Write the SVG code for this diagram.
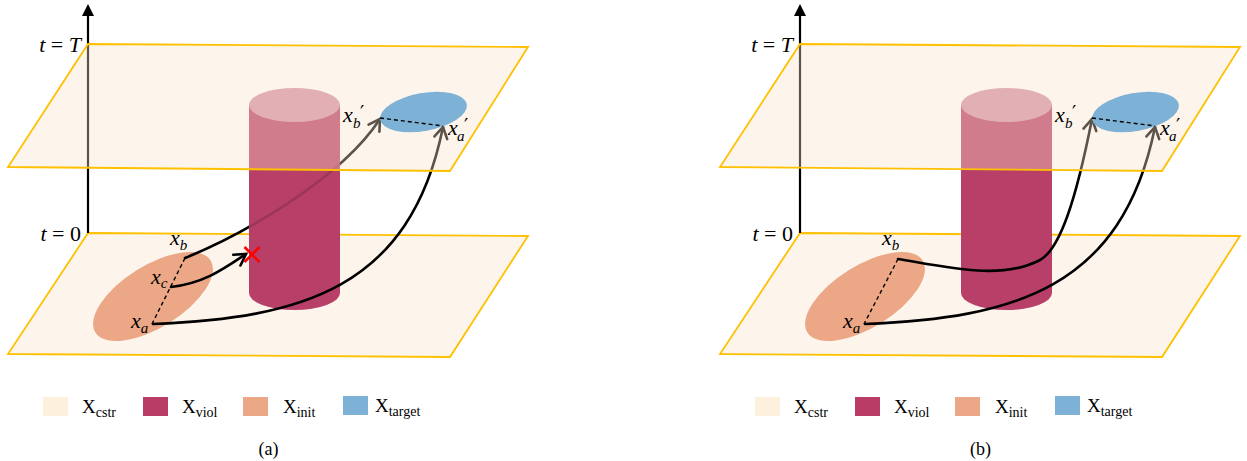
<svg xmlns="http://www.w3.org/2000/svg" width="1247" height="461" viewBox="0 0 1247 461">
<style>
.plane{fill:#fae4cc;fill-opacity:0.37;stroke:#ffc000;stroke-width:1.8;stroke-linejoin:miter}
.axis{stroke:#000;stroke-width:2.2}
.cyl{fill:#b84068}
.cyltop{fill:#d491a6}
.init{fill:#eca886}
.target{fill:#7db2d6}
.traj{fill:none;stroke:#000;stroke-width:2.6;stroke-linecap:round;marker-end:url(#chev)}
.dash{fill:none;stroke:#000;stroke-width:1.4;stroke-dasharray:4 3}
.lbl{font-family:'Liberation Serif','DejaVu Serif',serif;font-style:italic;font-size:22px;fill:#000}
.sub{font-size:15px}
.pr{font-family:'DejaVu Sans',sans-serif;font-style:normal;font-size:19px}
.up{font-style:normal}
.leg{font-family:'Liberation Serif','DejaVu Serif',serif;font-size:19px;fill:#000}
.ls{font-size:14px}
.cap{font-family:'Liberation Serif','DejaVu Serif',serif;font-size:18px;fill:#000}
</style>
<defs>
<marker id="chev" viewBox="-14 -8 16 16" refX="0" refY="0" markerWidth="16" markerHeight="16" markerUnits="userSpaceOnUse" orient="auto" overflow="visible">
<path d="M-11,-6.5 L0,0 L-11,6.5" fill="none" stroke="#000" stroke-width="2.6" stroke-linecap="round" stroke-linejoin="miter"/>
</marker>
<mask id="behindCyl" maskUnits="userSpaceOnUse" x="0" y="0" width="1247" height="461">
<rect width="1247" height="461" fill="#fff"/>
<rect x="249" y="105" width="91" height="188" fill="#262626"/>
<ellipse cx="294.5" cy="293" rx="45.5" ry="17" fill="#262626"/>
</mask>
</defs>

<g id="panel-a">
  <g id="a-plane-t0"><polygon class="plane" points="88,233 528,236 450,357 8,354"/></g>
  <g id="a-axis">
    <line class="axis" x1="88" y1="233" x2="88" y2="14"/>
    <path d="M82,16 L88,4 L94,16 Z" fill="#000"/>
  </g>
  <g id="a-init"><ellipse class="init" cx="153" cy="296.5" rx="68" ry="31" transform="rotate(-32 153 296.5)"/></g>
  <g id="a-cylinder">
    <rect class="cyl" x="249" y="105" width="91" height="188"/>
    <ellipse class="cyl" cx="294.5" cy="293" rx="45.5" ry="17"/>
    <ellipse class="cyltop" cx="294.5" cy="105" rx="45.5" ry="17"/>
  </g>
  <g id="a-connectors">
    <path class="traj" d="M185,258 C240,236 340,180 380,119" mask="url(#behindCyl)"/>
    <path class="traj" d="M171,287 C205,283 225,268 246,254"/>
    <path class="traj" d="M153,324 C300,318 410,290 443,127"/>
    <line class="dash" x1="185" y1="258" x2="152" y2="324"/>
  </g>
  <g id="a-cross">
    <line x1="244.5" y1="247" x2="259.5" y2="262" stroke="#ff0000" stroke-width="2.6"/>
    <line x1="244.5" y1="262" x2="259.5" y2="247" stroke="#ff0000" stroke-width="2.6"/>
  </g>
  <g id="a-plane-tT"><polygon class="plane" points="88,44 528,47 450,171 8,167"/></g>
  <g id="a-target">
    <ellipse class="target" cx="423.5" cy="112" rx="44" ry="19" transform="rotate(-10 423.5 112)"/>
    <line class="dash" x1="380" y1="118" x2="443" y2="126"/>
  </g>
  <g id="a-labels">
    <text class="lbl" x="81" y="52" text-anchor="end">t <tspan class="up">=</tspan> T</text>
    <text class="lbl" x="81" y="241" text-anchor="end">t <tspan class="up">= 0</tspan></text>
    <text class="lbl" x="170" y="245">x<tspan class="sub" dy="5">b</tspan></text>
    <text class="lbl" x="151" y="284">x<tspan class="sub" dy="4">c</tspan></text>
    <text class="lbl" x="131" y="328">x<tspan class="sub" dy="5">a</tspan></text>
    <text class="lbl" x="343" y="122">x<tspan class="sub" x="353" y="128">b</tspan><tspan class="pr" x="360" y="119">′</tspan></text>
    <text class="lbl" x="448" y="135">x<tspan class="sub" x="457" y="141">a</tspan><tspan class="pr" x="464" y="132">′</tspan></text>
  </g>
  <g id="a-legend">
    <rect x="43" y="397" width="25" height="19" fill="#fdf0dc"/>
    <text class="leg" x="82" y="413">X<tspan class="ls" dy="4">cstr</tspan></text>
    <rect x="143" y="397" width="25" height="19" fill="#b83c66"/>
    <text class="leg" x="182" y="413">X<tspan class="ls" dy="4">viol</tspan></text>
    <rect x="243" y="397" width="25" height="19" fill="#eca886"/>
    <text class="leg" x="283" y="413">X<tspan class="ls" dy="4">init</tspan></text>
    <rect x="343" y="396" width="25" height="19" fill="#7db2d6"/>
    <text class="leg" x="375" y="412">X<tspan class="ls" dy="4">target</tspan></text>
    <text class="cap" x="268.5" y="455" text-anchor="middle">(a)</text>
  </g>
</g>

<g id="panel-b" transform="translate(712 0)">
  <g id="b-plane-t0"><polygon class="plane" points="88,233 528,236 450,357 8,354"/></g>
  <g id="b-axis">
    <line class="axis" x1="88" y1="233" x2="88" y2="14"/>
    <path d="M82,16 L88,4 L94,16 Z" fill="#000"/>
  </g>
  <g id="b-init"><ellipse class="init" cx="153" cy="296.5" rx="68" ry="31" transform="rotate(-32 153 296.5)"/></g>
  <g id="b-cylinder">
    <rect class="cyl" x="249" y="105" width="91" height="188"/>
    <ellipse class="cyl" cx="294.5" cy="293" rx="45.5" ry="17"/>
    <ellipse class="cyltop" cx="294.5" cy="105" rx="45.5" ry="17"/>
  </g>
  <g id="b-connectors">
    <path class="traj" d="M186,259 C240,268 290,280 328,260 C348,249 364,200 380,119"/>
    <path class="traj" d="M153,324 C300,318 410,290 443,127"/>
    <line class="dash" x1="186" y1="259" x2="152" y2="324"/>
  </g>
  <g id="b-plane-tT"><polygon class="plane" points="88,44 528,47 450,171 8,167"/></g>
  <g id="b-target">
    <ellipse class="target" cx="423.5" cy="112" rx="44" ry="19" transform="rotate(-10 423.5 112)"/>
    <line class="dash" x1="380" y1="118" x2="443" y2="126"/>
  </g>
  <g id="b-labels">
    <text class="lbl" x="81" y="52" text-anchor="end">t <tspan class="up">=</tspan> T</text>
    <text class="lbl" x="81" y="241" text-anchor="end">t <tspan class="up">= 0</tspan></text>
    <text class="lbl" x="170" y="245">x<tspan class="sub" dy="5">b</tspan></text>
    <text class="lbl" x="131" y="328">x<tspan class="sub" dy="5">a</tspan></text>
    <text class="lbl" x="343" y="122">x<tspan class="sub" x="353" y="128">b</tspan><tspan class="pr" x="360" y="119">′</tspan></text>
    <text class="lbl" x="448" y="135">x<tspan class="sub" x="457" y="141">a</tspan><tspan class="pr" x="464" y="132">′</tspan></text>
  </g>
  <g id="b-legend">
    <rect x="43" y="397" width="25" height="19" fill="#fdf0dc"/>
    <text class="leg" x="82" y="413">X<tspan class="ls" dy="4">cstr</tspan></text>
    <rect x="143" y="397" width="25" height="19" fill="#b83c66"/>
    <text class="leg" x="182" y="413">X<tspan class="ls" dy="4">viol</tspan></text>
    <rect x="243" y="397" width="25" height="19" fill="#eca886"/>
    <text class="leg" x="283" y="413">X<tspan class="ls" dy="4">init</tspan></text>
    <rect x="343" y="396" width="25" height="19" fill="#7db2d6"/>
    <text class="leg" x="375" y="412">X<tspan class="ls" dy="4">target</tspan></text>
    <text class="cap" x="268.5" y="455" text-anchor="middle">(b)</text>
  </g>
</g>
</svg>
